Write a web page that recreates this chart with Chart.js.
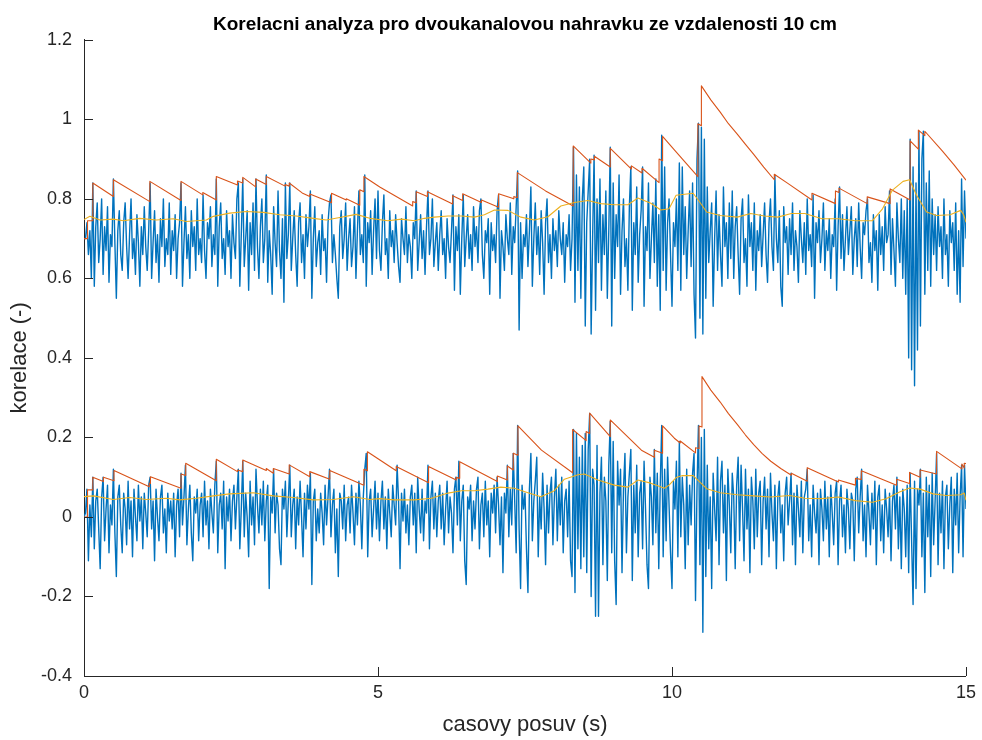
<!DOCTYPE html>
<html>
<head>
<meta charset="utf-8">
<script src="https://cdn.jsdelivr.net/npm/chart.js@4.4.1/dist/chart.umd.min.js"></script>
<style>
  html, body { margin: 0; padding: 0; background: #ffffff; }
  #wrap { width: 982px; height: 740px; }
</style>
</head>
<body>
<div id="wrap"><canvas id="chart" width="982" height="740"></canvas></div>
<script>
// ---------------------------------------------------------------------------
// Data (MATLAB-style correlation plot).
// Blue traces are sampled every TIME_STEP seconds starting at 0 s.
// ---------------------------------------------------------------------------
const TIME_STEP = 0.025;

// upper trace (correlation, offset around 0.7), one row = 0.5 s
const CORR_UPPER = [
  .70,.70,.74,.66,.72,.60,.84,.58,.73,.79,.64,.70,.80,.61,.73,.67,.78,.59,.71,.68,
  .85,.69,.55,.72,.77,.66,.62,.74,.79,.68,.60,.71,.80,.65,.70,.61,.76,.69,.58,.73,
  .66,.78,.68,.62,.72,.84,.60,.69,.77,.64,.71,.59,.75,.68,.80,.63,.70,.66,.79,.61,
  .72,.67,.76,.60,.70,.74,.84,.58,.69,.78,.65,.71,.60,.77,.68,.73,.62,.80,.66,.70,
  .64,.81,.67,.60,.74,.70,.78,.63,.71,.66,.85,.58,.73,.79,.65,.70,.61,.77,.68,.72,
  .60,.76,.69,.65,.80,.84,.58,.71,.85,.63,.70,.77,.57,.74,.66,.79,.62,.85,.68,.60,
  .73,.80,.64,.70,.86,.59,.72,.66,.56,.78,.69,.63,.82,.67,.60,.75,.54,.84,.65,.71,
  .84,.62,.70,.77,.66,.58,.74,.79,.64,.71,.60,.76,.68,.73,.82,.55,.70,.78,.63,.69,
  .72,.61,.76,.67,.70,.59,.74,.79,.81,.64,.71,.66,.60,.55,.73,.77,.65,.70,.79,.62,
  .70,.75,.63,.68,.78,.60,.72,.82,.66,.71,.64,.86,.58,.74,.69,.77,.61,.72,.80,.65,
  .82,.67,.62,.74,.81,.66,.70,.60,.77,.68,.72,.64,.76,.69,.63,.59,.75,.70,.66,.78,
  .64,.71,.68,.60,.74,.70,.82,.62,.69,.76,.65,.72,.61,.73,.82,.66,.70,.80,.63,.69,
  .74,.62,.71,.77,.66,.70,.60,.75,.68,.64,.72,.81,.57,.73,.67,.76,.56,.70,.81,.63,
  .70,.76,.65,.71,.62,.78,.68,.73,.64,.77,.80,.66,.60,.72,.69,.75,.56,.74,.67,.71,
  .64,.77,.81,.55,.72,.68,.62,.76,.70,.66,.79,.61,.73,.69,.78,.87,.47,.74,.60,.71,
  .68,.76,.63,.72,.83,.58,.70,.79,.66,.73,.61,.77,.69,.56,.74,.80,.64,.71,.60,.75,
  .67,.72,.63,.77,.70,.66,.74,.59,.71,.68,.76,.62,.70,.93,.54,.86,.62,.83,.55,.80,
  .88,.48,.74,.82,.90,.46,.70,.91,.52,.80,.64,.85,.57,.76,.66,.82,.55,.72,.93,.48,
  .84,.60,.76,.68,.86,.56,.72,.80,.63,.70,.57,.78,.88,.52,.74,.66,.83,.59,.71,.77,
  .88,.53,.73,.67,.84,.60,.70,.79,.64,.85,.58,.76,.52,.96,.62,.88,.57,.74,.80,.66,
  .53,.74,.68,.80,.62,.89,.57,.88,.66,.78,.60,.72,.82,.63,.84,.56,.45,.90,.99,.50,
  .98,.46,.95,.55,.83,.64,.72,.79,.53,.70,.82,.62,.76,.66,.58,.83,.68,.74,.60,.79,
  .65,.82,.60,.73,.78,.66,.56,.75,.80,.64,.70,.58,.81,.68,.74,.62,.79,.57,.72,.67,
  .76,.63,.71,.79,.66,.59,.74,.80,.68,.62,.86,.70,.64,.77,.58,.53,.78,.69,.73,.61,
  .75,.66,.79,.62,.72,.68,.59,.77,.70,.64,.74,.61,.80,.67,.71,.63,.81,.55,.74,.69,
  .77,.64,.70,.79,.62,.72,.67,.75,.60,.71,.68,.80,.57,.73,.83,.65,.76,.62,.70,.78,
  .66,.72,.78,.61,.70,.75,.63,.79,.68,.60,.74,.71,.77,.80,.64,.69,.59,.76,.67,.72,
  .57,.76,.66,.73,.62,.78,.69,.71,.82,.61,.75,.67,.58,.79,.70,.64,.80,.60,.77,.56,
  .80,.40,.95,.37,.88,.33,.84,.42,.97,.48,.90,.97,.56,.84,.62,.87,.58,.80,.66,.76,
  .62,.78,.68,.73,.60,.80,.66,.71,.58,.77,.69,.74,.62,.79,.56,.72,.54,.85,.63,.82,
  .70
];

// lower trace (correlation, around 0), one row = 0.5 s
const CORR_LOWER = [
  .00,.01,.07,-.11,.03,-.05,.10,-.08,.04,.07,-.03,-.13,.05,.10,-.06,.02,.08,-.09,.03,-.02,
  .12,-.04,-.15,.05,.08,-.02,-.09,.06,.02,-.07,.09,-.03,.04,-.10,.07,.00,-.06,.08,-.01,.05,
  -.08,.06,.01,-.05,.08,.10,-.03,.04,-.11,.07,.00,-.06,.05,.08,-.04,.02,-.09,.06,-.01,.04,
  -.03,.06,-.10,.03,.07,-.05,.11,-.02,.05,.13,-.07,.02,.08,-.04,-.11,.05,.01,.07,-.06,.03,
  .06,-.05,.09,-.02,.04,-.08,.07,.01,-.04,.08,.14,-.09,.03,.06,-.03,.09,-.13,.05,-.01,.07,
  -.06,.04,.08,-.03,.05,.12,-.08,.02,.14,-.05,.06,.00,-.10,.09,-.02,.05,-.07,.12,.03,-.04,
  .07,-.02,.09,-.06,.04,.08,-.18,.05,.01,.12,-.04,.06,.03,-.08,-.12,.07,.02,.09,-.05,.04,
  .13,-.05,.03,.07,-.08,.05,-.02,.09,.00,-.10,.06,-.03,.08,.02,.11,-.17,.04,.07,-.06,.02,
  -.04,.06,.01,-.07,.08,-.02,.05,.12,-.05,.03,.07,-.09,.02,-.15,.06,.04,-.03,.08,-.06,.03,
  .05,-.04,.08,.01,-.07,.06,-.02,.09,.03,-.08,.05,.12,.16,-.10,.04,.07,-.05,.02,.09,-.03,
  .06,-.06,.04,.09,-.03,.05,-.08,.07,.01,-.05,.08,.03,-.02,.13,.04,-.13,.06,-.01,.07,-.04,
  .03,-.07,.05,.08,-.02,.06,-.09,.10,.02,-.04,.07,-.06,.04,.01,.13,-.08,.05,.09,-.03,.06,
  -.05,.04,.08,-.03,.06,-.07,.02,.09,-.04,.05,.01,-.09,.07,.10,-.02,.14,-.06,.04,.08,-.11,
  -.17,.05,.02,.08,-.06,.04,-.03,.07,.10,-.08,.03,.06,-.05,.09,-.02,.04,-.10,.06,.01,.08,
  -.04,.10,.03,-.07,.05,-.14,.06,.01,.13,-.05,.07,-.02,.16,.04,-.09,.23,-.03,-.18,.08,.02,
  .06,-.08,-.19,.07,.16,-.06,.04,.09,.15,-.10,.05,-.03,.11,.02,-.12,.08,-.04,.06,.10,-.07,
  .05,.12,-.06,.08,-.02,.10,-.09,.04,.07,-.05,.09,-.11,-.15,.22,-.19,.21,-.08,.15,-.13,.18,
  -.10,.21,-.14,.17,.26,-.20,.12,.08,-.25,.18,-.25,.06,.15,-.12,.10,.04,-.16,.13,.24,-.09,
  .19,-.11,-.22,.14,.03,.12,-.14,.07,.16,-.09,.05,.11,.17,-.16,.08,-.04,.13,-.10,.06,.09,
  -.08,.14,.02,-.12,-.18,.10,.05,-.07,.17,-.04,.11,-.13,.08,.23,-.10,.12,-.06,.15,.03,-.09,
  -.18,.09,.02,.14,-.10,.19,-.05,.10,.03,-.13,.12,-.07,.08,-.02,.11,.16,-.21,.07,.23,-.12,
  .20,-.29,.22,-.15,.13,-.08,.05,-.18,.11,.02,-.06,.15,-.12,.09,.14,-.04,.08,-.16,.12,.03,
  -.09,.11,.05,-.13,.08,.15,-.06,.13,.02,-.11,.12,-.03,.07,-.14,.10,.04,-.08,.12,-.05,.06,
  .09,-.12,.04,.10,-.03,.07,-.10,.11,.01,-.06,.08,-.13,.05,.09,-.04,.03,-.11,.06,.10,-.02,
  .04,.11,-.07,.06,-.12,.08,.02,-.05,.09,-.09,.05,.07,.12,-.06,.03,-.10,.08,.01,-.04,.06,
  -.12,.07,.02,-.06,.09,-.03,.05,-.10,.08,.01,-.07,.06,.09,-.12,.04,.08,-.05,.03,-.09,.07,
  .02,-.08,.06,.04,-.11,.07,.10,-.04,.05,.12,-.06,.03,-.10,.08,.01,-.07,.06,-.03,.09,-.12,
  .05,.08,-.06,.03,-.09,.07,.02,-.05,.06,-.11,.04,.08,-.03,.10,-.08,.05,-.13,.07,.02,-.10,
  .08,-.14,.11,-.06,-.22,.09,-.18,.07,.03,.12,-.10,.06,-.19,.10,-.05,.08,-.15,.11,-.07,.04,
  .16,-.12,.06,-.04,.09,-.13,.05,.08,-.08,.03,.10,-.14,.07,-.02,.11,-.09,.05,.13,-.10,.13,
  .02
];

// peak-hold envelopes (orange): time (s) and value, jumps are repeated times
const ENV_UPPER_T = [0,0.06,0.06,0.15,0.15,0.50,0.50,1.12,1.12,1.65,1.65,2.02,2.02,2.25,2.25,
  2.61,2.61,2.70,2.70,2.92,2.92,3.10,3.10,3.42,3.42,3.49,3.49,3.71,3.84,3.84,4.21,4.21,4.46,4.46,
  4.69,4.69,4.76,4.76,5.03,5.59,5.59,5.65,5.65,5.84,5.84,6.27,6.27,6.44,6.44,6.76,6.76,7.05,7.05,
  7.31,7.31,7.37,7.37,7.85,8.32,8.32,8.62,8.62,8.68,8.68,8.95,8.95,9.31,9.31,9.49,9.49,9.78,9.78,
  9.84,9.84,10.04,10.44,10.44,10.50,10.50,10.66,10.82,10.96,11.11,11.25,11.39,11.56,11.74,11.74,11.97,12.38,12.38,12.78,
  12.78,12.84,12.84,13.32,13.32,13.71,13.71,14.05,14.05,14.19,14.19,14.30,14.30,14.60,14.80,15.0];
const ENV_UPPER_V = [0.70,0.70,0.745,0.745,0.84,0.806,0.848,0.793,0.844,0.796,0.844,0.81,0.816,0.797,0.856,
  0.835,0.845,0.840,0.854,0.830,0.850,0.836,0.856,0.832,0.836,0.832,0.840,0.815,0.806,0.812,0.790,0.814,0.797,0.800,
  0.784,0.823,0.818,0.856,0.830,0.782,0.793,0.790,0.818,0.806,0.818,0.787,0.808,0.796,0.813,0.791,0.797,0.779,0.813,
  0.800,0.806,0.803,0.866,0.820,0.782,0.933,0.890,0.900,0.898,0.907,0.880,0.927,0.875,0.883,0.865,0.877,0.841,0.900,
  0.896,0.957,0.923,0.856,0.989,0.984,1.084,1.049,1.018,0.989,0.963,0.937,0.912,0.880,0.848,0.862,0.839,0.797,0.814,0.788,
  0.820,0.816,0.827,0.788,0.805,0.788,0.825,0.797,0.946,0.925,0.973,0.959,0.970,0.920,0.885,0.847];

const ENV_LOWER_T = [0,0.06,0.06,0.15,0.15,0.33,0.33,0.51,0.51,1.11,1.11,1.13,1.13,1.65,1.65,1.73,1.73,
  2.25,2.25,2.61,2.61,2.70,2.70,3.10,3.10,3.22,3.22,3.49,3.49,3.84,3.84,4.18,4.18,4.76,4.76,4.82,4.82,
  5.31,5.31,5.86,5.86,6.33,6.33,6.39,6.39,7.03,7.03,7.20,7.20,7.30,7.30,7.38,7.38,7.78,8.31,8.31,
  8.54,8.54,8.60,8.60,8.95,8.95,9.48,9.70,9.70,9.84,9.84,10.04,10.14,10.14,10.40,10.40,10.46,10.46,
  10.51,10.51,10.66,10.82,10.96,11.11,11.25,11.39,11.53,11.68,11.85,12.03,12.03,12.30,12.30,12.83,12.83,13.12,13.12,13.22,13.22,
  13.82,13.82,14.04,14.04,14.22,14.22,14.50,14.50,14.93,14.93,14.97,14.97,15.0];
const ENV_LOWER_V = [0.00,0.00,0.068,0.068,0.100,0.089,0.100,0.091,0.117,0.076,0.085,0.084,0.101,0.072,0.108,0.104,0.135,
  0.091,0.145,0.114,0.118,0.114,0.143,0.117,0.122,0.110,0.122,0.108,0.131,0.101,0.114,0.095,0.117,0.080,0.120,0.116,0.164,
  0.116,0.127,0.086,0.127,0.093,0.100,0.097,0.139,0.089,0.103,0.093,0.128,0.118,0.160,0.155,0.229,0.168,0.111,0.220,
  0.192,0.215,0.210,0.261,0.202,0.244,0.168,0.150,0.168,0.160,0.229,0.198,0.186,0.191,0.161,0.174,0.172,0.229,
  0.226,0.353,0.319,0.289,0.260,0.233,0.206,0.182,0.160,0.140,0.122,0.105,0.110,0.090,0.124,0.088,0.093,0.080,0.097,0.094,0.116,
  0.080,0.095,0.084,0.112,0.100,0.118,0.108,0.165,0.121,0.133,0.123,0.135,0.134];

// smoothed mean (yellow): time (s) and value
const MEAN_UPPER_T = [0,0.10,0.27,0.50,0.67,0.95,1.23,1.52,1.74,2.08,2.20,2.48,2.76,3.05,3.33,3.61,3.90,4.12,
  4.35,4.63,4.86,5.17,5.40,5.62,5.79,5.96,6.19,6.42,6.64,6.81,6.98,7.21,7.43,7.66,7.89,8.11,8.34,8.57,8.79,
  9.02,9.25,9.42,9.64,9.81,9.95,10.07,10.18,10.36,10.47,10.59,10.82,11.11,11.34,11.57,11.80,12.03,12.26,
  12.55,12.83,13.12,13.41,13.58,13.75,13.93,14.04,14.16,14.33,14.50,14.73,14.91,14.96,15.0];
const MEAN_UPPER_V = [0.748,0.756,0.747,0.749,0.745,0.751,0.747,0.750,0.743,0.747,0.756,0.764,0.768,0.766,0.760,0.757,0.751,0.747,
  0.753,0.761,0.751,0.745,0.749,0.745,0.751,0.754,0.757,0.757,0.754,0.760,0.772,0.771,0.754,0.747,0.755,0.782,0.791,0.796,0.788,
  0.785,0.785,0.802,0.789,0.772,0.775,0.809,0.811,0.814,0.792,0.767,0.758,0.754,0.763,0.757,0.754,0.763,0.763,
  0.750,0.750,0.745,0.745,0.775,0.822,0.844,0.848,0.809,0.767,0.758,0.760,0.771,0.760,0.741];

const MEAN_LOWER_T = [0,0.16,0.50,0.78,1.06,1.40,1.63,1.91,2.20,2.48,2.88,3.22,3.56,3.90,4.24,4.58,4.86,5.03,
  5.28,5.62,5.91,6.19,6.42,6.64,6.87,7.09,7.32,7.55,7.77,8.00,8.17,8.40,8.51,8.74,9.02,9.25,9.42,9.64,9.87,
  9.95,10.07,10.18,10.36,10.47,10.59,10.82,11.11,11.39,11.68,12.0,12.26,12.55,12.83,13.12,13.41,13.64,13.87,
  14.04,14.22,14.44,14.67,14.91,14.97,15.0];
const MEAN_LOWER_V = [0.051,0.053,0.044,0.049,0.044,0.047,0.043,0.047,0.053,0.058,0.061,0.053,0.049,0.043,0.044,0.051,0.044,0.046,
  0.043,0.043,0.047,0.060,0.066,0.066,0.070,0.075,0.072,0.061,0.051,0.066,0.095,0.106,0.108,0.093,0.080,0.075,0.093,0.085,0.072,
  0.080,0.099,0.104,0.104,0.088,0.071,0.061,0.056,0.053,0.050,0.054,0.047,0.046,0.050,0.041,0.037,0.046,0.063,
  0.073,0.070,0.058,0.054,0.056,0.060,0.042];

const X_TICKS = [0, 5, 10, 15];
const Y_TICKS = [-0.4, -0.2, 0, 0.2, 0.4, 0.6, 0.8, 1, 1.2];

// ---------------------------------------------------------------------------

const AXIS_COLOR = "#262626";
const FONT_FAMILY = "'Liberation Sans', Arial, sans-serif";

const sampled = (values) => values.map((v, i) => ({ x: i * TIME_STEP, y: v }));
const paired  = (t, v) => t.map((x, i) => ({ x: x, y: v[i] }));

// MATLAB draws its ticks inside the axes, Chart.js only outside -> small plugin
const inwardTicks = {
  id: "inwardTicks",
  afterDraw(chart) {
    const { ctx, chartArea: a, scales } = chart;
    const len = 9;
    ctx.save();
    ctx.strokeStyle = AXIS_COLOR;
    ctx.lineWidth = 1;
    ctx.beginPath();
    Y_TICKS.forEach((v) => {
      const py = Math.round(scales.y.getPixelForValue(v)) + 0.5;
      ctx.moveTo(a.left, py);
      ctx.lineTo(a.left + len, py);
    });
    X_TICKS.forEach((v) => {
      const px = Math.round(scales.x.getPixelForValue(v)) + 0.5;
      ctx.moveTo(px, a.bottom);
      ctx.lineTo(px, a.bottom - len);
    });
    ctx.stroke();
    ctx.restore();
  },
};

const lineStyle = (color, width, order) => ({
  borderColor: color,
  borderWidth: width,
  borderJoinStyle: "round",
  pointRadius: 0,
  showLine: true,
  fill: false,
  tension: 0,
  order: order,
});

new Chart(document.getElementById("chart"), {
  type: "scatter",
  data: {
    datasets: [
      { data: sampled(CORR_UPPER), ...lineStyle("#0072BD", 1.4, 3) },
      { data: sampled(CORR_LOWER), ...lineStyle("#0072BD", 1.4, 3) },
      { data: paired(ENV_UPPER_T, ENV_UPPER_V), ...lineStyle("#D95319", 1.1, 2) },
      { data: paired(ENV_LOWER_T, ENV_LOWER_V), ...lineStyle("#D95319", 1.1, 2) },
      { data: paired(MEAN_UPPER_T, MEAN_UPPER_V), ...lineStyle("#EDB120", 1.1, 1) },
      { data: paired(MEAN_LOWER_T, MEAN_LOWER_V), ...lineStyle("#EDB120", 1.1, 1) },
    ],
  },
  options: {
    responsive: false,
    animation: false,
    events: [],
    layout: { padding: { left: 0, right: 15, top: 0, bottom: 0 } },
    plugins: {
      legend: { display: false },
      tooltip: { enabled: false },
      title: {
        display: true,
        fullSize: false,   // centre the title over the axes, like MATLAB
        text: "Korelacni analyza pro dvoukanalovou nahravku ze vzdalenosti 10 cm",
        color: "#000000",
        font: { family: FONT_FAMILY, size: 19, weight: "bold", lineHeight: 1.2 },
        padding: { top: 13, bottom: 4 },
      },
    },
    scales: {
      x: {
        type: "linear",
        min: 0,
        max: 15,
        afterFit: (scale) => { scale.height = 64; },
        afterBuildTicks: (scale) => { scale.ticks = X_TICKS.map((v) => ({ value: v })); },
        grid: { display: false, drawTicks: false },
        border: { display: true, color: AXIS_COLOR, width: 1 },
        ticks: {
          color: AXIS_COLOR,
          padding: 6,
          maxRotation: 0,
          font: { family: FONT_FAMILY, size: 18 },
        },
        title: {
          display: true,
          text: "casovy posuv (s)",
          color: AXIS_COLOR,
          font: { family: FONT_FAMILY, size: 22 },
          padding: { top: 0, bottom: 2 },
        },
      },
      y: {
        type: "linear",
        min: -0.4,
        max: 1.2,
        afterFit: (scale) => { scale.width = 84; },
        afterBuildTicks: (scale) => { scale.ticks = Y_TICKS.map((v) => ({ value: v })); },
        grid: { display: false, drawTicks: false },
        border: { display: true, color: AXIS_COLOR, width: 1 },
        ticks: {
          color: AXIS_COLOR,
          padding: 12,
          font: { family: FONT_FAMILY, size: 18 },
          callback: (v) => String(Number(v.toFixed(1))),
        },
        title: {
          display: true,
          text: "korelace (-)",
          color: AXIS_COLOR,
          font: { family: FONT_FAMILY, size: 22 },
          padding: { top: 7, bottom: 0 },
        },
      },
    },
  },
  plugins: [inwardTicks],
});
</script>
</body>
</html>
